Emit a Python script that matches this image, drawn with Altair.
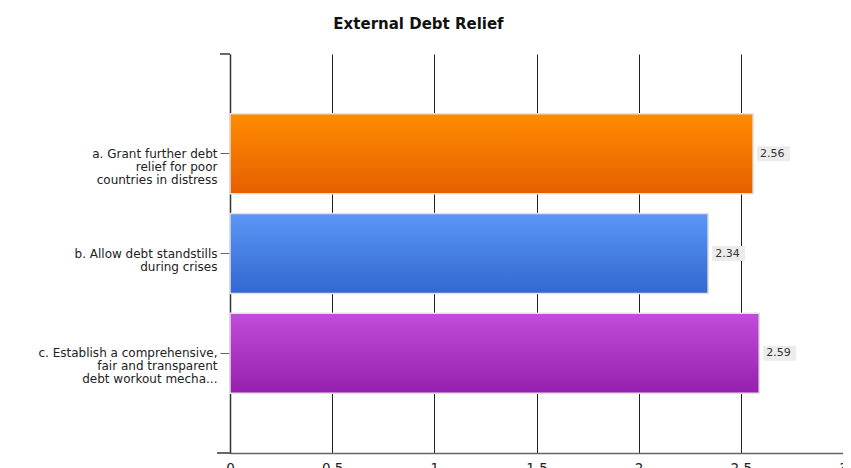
import altair as alt
import pandas as pd

categories = [
    "a. Grant further debt\nrelief for poor\ncountries in distress",
    "b. Allow debt standstills\nduring crises",
    "c. Establish a comprehensive,\nfair and transparent\ndebt workout mecha...",
]
values = [2.56, 2.34, 2.59]
labels = ["2.56", "2.34", "2.59"]
top_colors = ["#ff8c00", "#5b96f6", "#c24ddb"]
bottom_colors = ["#e65f00", "#3268cf", "#9620ae"]
x_ticks = [0, 0.5, 1, 1.5, 2, 2.5, 3]

df = pd.DataFrame({"cat": categories, "value": values, "label": labels})

FONT = "DejaVu Sans"

y_enc = alt.Y(
    "cat:N",
    sort=categories,
    title=None,
    scale=alt.Scale(paddingInner=0.2, paddingOuter=0.6),
    axis=alt.Axis(
        labelExpr="split(datum.label, '\\n')",
        labelFont=FONT,
        labelFontSize=12,
        labelColor="#222222",
        labelLineHeight=13,
        labelPadding=3,
        tickSize=10,
        tickColor="#666666",
        domainColor="#333333",
        domainWidth=1.5,
        grid=False,
        labelLimit=300,
    ),
)
x_enc = alt.X(
    "value:Q",
    title=None,
    scale=alt.Scale(domain=[0, 3], nice=False),
    axis=alt.Axis(
        values=x_ticks,
        format="~g",
        labelFont=FONT,
        labelFontSize=13.5,
        labelColor="#222222",
        labelPadding=8,
        ticks=False,
        grid=True,
        gridColor="#222222",
        gridOpacity=1,
        gridWidth=1,
        domainColor="#666666",
        domainWidth=1.5,
        labelFlush=False,
    ),
)

base = alt.Chart(df)

layers = []
for i, c in enumerate(categories):
    layers.append(
        base.transform_filter(alt.datum.cat == c)
        .mark_bar(
            color=alt.Gradient(
                gradient="linear",
                x1=0, x2=0, y1=0, y2=1,
                stops=[
                    alt.GradientStop(color=top_colors[i], offset=0),
                    alt.GradientStop(color=bottom_colors[i], offset=1),
                ],
            ),
            stroke="#e2e2e2",
            strokeWidth=1.5,
        )
        .encode(x=x_enc, y=y_enc)
    )

boxes = base.mark_bar(
    color="#ececec", size=15, xOffset=4, x2Offset=37
).encode(x=x_enc, x2="value:Q", y=y_enc)

texts = base.mark_text(
    align="left", baseline="middle", dx=7, font=FONT, fontSize=11, color="#333333"
).encode(x=x_enc, y=y_enc, text="label:N")

top_tick = alt.Chart(df).mark_rule(color="#666666", strokeWidth=1.5, clip=False).encode(
    x=alt.value(-10), x2=alt.value(0), y=alt.value(0)
)
bottom_ext = alt.Chart(df).mark_rule(color="#666666", strokeWidth=1.5, clip=False).encode(
    x=alt.value(-13), x2=alt.value(0), y=alt.value(399)
)

chart = (
    alt.layer(*layers, boxes, texts, top_tick, bottom_ext)
    .properties(
        width=613,
        height=399,
        title=alt.TitleParams(
            "External Debt Relief",
            font=FONT,
            fontSize=15,
            fontWeight="bold",
            color="#111111",
            anchor="middle",
            dx=-118,
            offset=21,
        ),
        autosize=alt.AutoSizeParams(type="none"),
        padding={"left": 222, "top": 46, "right": 0, "bottom": 22},
    )
    .configure_view(stroke=None)
)

chart.save("out.html", embed_options={"renderer": "svg", "actions": False})
